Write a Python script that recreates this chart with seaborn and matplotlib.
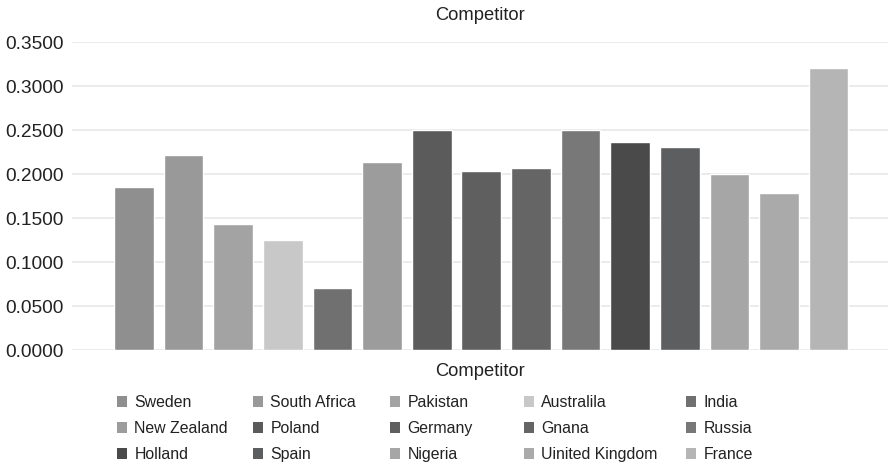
import matplotlib
matplotlib.use("Agg")
import matplotlib.pyplot as plt
from matplotlib.patches import Patch
import seaborn as sns
import pandas as pd

countries = ["Sweden", "South Africa", "Pakistan", "Australila", "India",
             "New Zealand", "Poland", "Germany", "Gnana", "Russia",
             "Holland", "Spain", "Nigeria", "Uinited Kingdom", "France"]
scores = [0.185, 0.222, 0.143, 0.125, 0.071,
          0.214, 0.250, 0.203, 0.207, 0.250,
          0.236, 0.231, 0.200, 0.178, 0.321]
shades = ["#8f8f8f", "#999999", "#a3a3a3", "#c8c8c8", "#707070",
          "#9c9c9c", "#5b5b5b", "#5e5f5e", "#656565", "#787878",
          "#4a4a4a", "#5d5e5f", "#a6a6a6", "#aaaaaa", "#b5b5b5"]
y_ticks = [0.0, 0.05, 0.10, 0.15, 0.20, 0.25, 0.30, 0.35]

sns.set_theme(style="white")
plt.rcParams["font.family"] = ["Liberation Sans", "DejaVu Sans"]

W, H = 889, 468
df = pd.DataFrame({"Competitor": countries, "Score": scores})
palette = dict(zip(countries, shades))

fig = plt.figure(figsize=(W / 100, H / 100), dpi=100)
ax = fig.add_axes([0.081, 0.252, 0.918, 0.658])

sns.barplot(data=df, x="Competitor", y="Score", hue="Competitor",
            palette=palette, order=countries, hue_order=countries,
            dodge=False, legend=False, width=0.8, saturation=1, ax=ax)

ax.set_xlim(-1.25, 15.2)
ax.set_ylim(0, 0.35)
ax.set_yticks(y_ticks)
ax.set_yticklabels([f"{v:.4f}" for v in y_ticks], fontsize=13.8, color="#222222")
ax.set_xticks([])
ax.set_xlabel("")
ax.set_ylabel("")
ax.tick_params(axis="y", length=0, pad=6)
ax.grid(axis="y", color="#e8e8e8", linewidth=1.2)
ax.set_axisbelow(True)
for s in ax.spines.values():
    s.set_visible(False)

fig.text(480 / W, 1 - 15 / H, "Competitor", ha="center", va="center",
         fontsize=13.2, color="#222222")
fig.text(480 / W, 1 - 372 / H, "Competitor", ha="center", va="center",
         fontsize=13.2, color="#222222")

# legend: five columns of three entries each, read row by row
ncol, nrow = 5, 3
col_x = [117, 253, 390, 524, 686]
for c in range(ncol):
    idx = [r * ncol + c for r in range(nrow)]
    leg = fig.legend([Patch(facecolor=shades[i], edgecolor="none") for i in idx],
                     [countries[i] for i in idx],
                     loc="upper left", bbox_to_anchor=(col_x[c] / W, 1 - 395 / H),
                     frameon=False, fontsize=11.4,
                     handlelength=0.65, handleheight=0.65, handletextpad=0.45,
                     labelspacing=0.7, borderpad=0, borderaxespad=0)
    for t in leg.get_texts():
        t.set_color("#222222")

fig.savefig("out.png", dpi=100, facecolor="white")
